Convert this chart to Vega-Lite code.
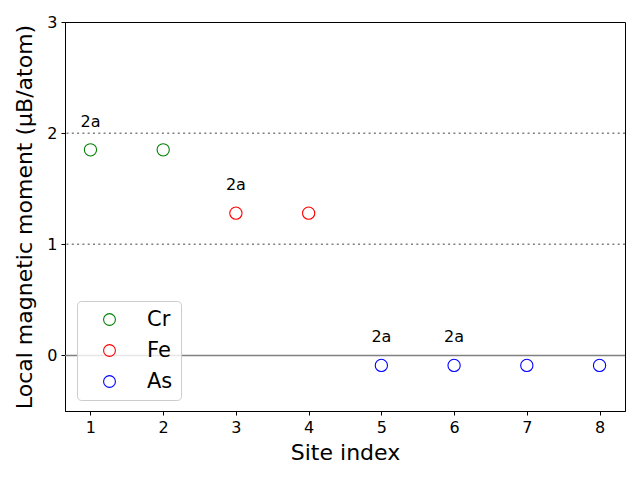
{
  "$schema": "https://vega.github.io/schema/vega-lite/v6.json",
  "width": 560,
  "height": 389,
  "autosize": {"type": "none"},
  "padding": {"left": 65, "top": 22, "right": 15, "bottom": 69},
  "background": "white",
  "config": {
    "font": "DejaVu Sans",
    "view": {"stroke": "black", "strokeWidth": 1},
    "axis": {
      "grid": false,
      "domainColor": "black",
      "tickColor": "black",
      "tickSize": 4,
      "labelFontSize": 16,
      "labelColor": "black",
      "titleFontSize": 22,
      "titleFontWeight": "normal",
      "titleColor": "black",
      "labelPadding": 4,
      "format": "d"
    }
  },
  "data": {
    "values": [
      {"site": 1, "moment": 1.85, "element": "Cr", "label": "2a"},
      {"site": 2, "moment": 1.85, "element": "Cr", "label": ""},
      {"site": 3, "moment": 1.28, "element": "Fe", "label": "2a"},
      {"site": 4, "moment": 1.28, "element": "Fe", "label": ""},
      {"site": 5, "moment": -0.09, "element": "As", "label": "2a"},
      {"site": 6, "moment": -0.09, "element": "As", "label": "2a"},
      {"site": 7, "moment": -0.09, "element": "As", "label": ""},
      {"site": 8, "moment": -0.09, "element": "As", "label": ""}
    ]
  },
  "layer": [
    {
      "data": {"values": [{"y": 1}, {"y": 2}]},
      "mark": {"type": "rule", "color": "#808080", "strokeDash": [2, 3.3], "strokeWidth": 1.5},
      "encoding": {"y": {"field": "y", "type": "quantitative", "scale": {"domain": [-0.5, 3]}}}
    },
    {
      "data": {"values": [{"y": 0}]},
      "mark": {"type": "rule", "color": "#808080", "strokeWidth": 1.5},
      "encoding": {"y": {"field": "y", "type": "quantitative"}}
    },
    {
      "mark": {"type": "point", "shape": "circle", "filled": false, "size": 150, "strokeWidth": 1.1, "opacity": 1},
      "encoding": {
        "x": {
          "field": "site", "type": "quantitative",
          "scale": {"domain": [0.65, 8.35], "nice": false, "zero": false},
          "axis": {"values": [1, 2, 3, 4, 5, 6, 7, 8], "title": "Site index", "titlePadding": 7}
        },
        "y": {
          "field": "moment", "type": "quantitative",
          "scale": {"domain": [-0.5, 3], "nice": false, "zero": false},
          "axis": {"values": [0, 1, 2, 3], "title": "Local magnetic moment (μB/atom)", "titlePadding": 10}
        },
        "color": {
          "field": "element", "type": "nominal",
          "scale": {"domain": ["Cr", "Fe", "As"], "range": ["green", "red", "blue"]},
          "legend": {
            "title": null,
            "orient": "none",
            "legendX": 12,
            "legendY": 279,
            "labelFontSize": 21,
            "labelColor": "black",
            "symbolType": "circle",
            "symbolSize": 140,
            "symbolFillColor": "transparent",
            "symbolStrokeWidth": 1.1,
            "symbolOpacity": 1,
            "symbolOffset": 14,
            "labelOffset": 27,
            "rowPadding": 9,
            "padding": 8,
            "strokeColor": "#cccccc",
            "fillColor": "rgba(255,255,255,0.8)",
            "cornerRadius": 4
          }
        }
      }
    },
    {
      "transform": [{"filter": "datum.label != ''"}],
      "mark": {"type": "text", "fontSize": 16, "dy": -28, "color": "black"},
      "encoding": {
        "x": {"field": "site", "type": "quantitative"},
        "y": {"field": "moment", "type": "quantitative"},
        "text": {"field": "label"}
      }
    }
  ]
}
